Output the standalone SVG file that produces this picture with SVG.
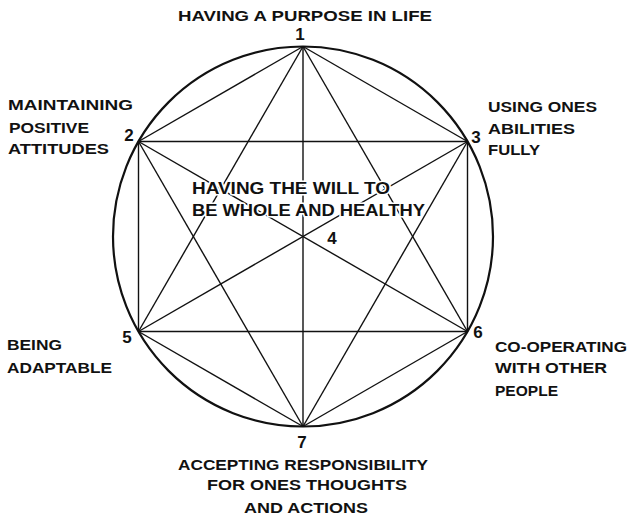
<svg xmlns="http://www.w3.org/2000/svg" width="629" height="519" viewBox="0 0 629 519">
<style>
text{font-family:"Liberation Sans",Arial,sans-serif;font-weight:bold;fill:#111}
.lbl{font-size:14px}
.num{font-size:17px;text-anchor:middle}
.mid{font-size:16px;stroke:#fff;stroke-width:3;paint-order:stroke;stroke-linejoin:round}
.edge{stroke:#111;stroke-width:1.4;fill:none}
</style>
<rect width="629" height="519" fill="#fff"/>
<circle cx="303" cy="236.5" r="190" fill="none" stroke="#111" stroke-width="2.2"/>
<g id="connectors" class="edge">
<line x1="303" y1="46.5" x2="138.5" y2="141.5"/>
<line x1="303" y1="46.5" x2="467.5" y2="141.5"/>
<line x1="303" y1="46.5" x2="138.5" y2="331.5"/>
<line x1="303" y1="46.5" x2="467.5" y2="331.5"/>
<line x1="303" y1="46.5" x2="303" y2="426.5"/>
<line x1="138.5" y1="141.5" x2="467.5" y2="141.5"/>
<line x1="138.5" y1="141.5" x2="138.5" y2="331.5"/>
<line x1="138.5" y1="141.5" x2="467.5" y2="331.5"/>
<line x1="138.5" y1="141.5" x2="303" y2="426.5"/>
<line x1="467.5" y1="141.5" x2="138.5" y2="331.5"/>
<line x1="467.5" y1="141.5" x2="467.5" y2="331.5"/>
<line x1="467.5" y1="141.5" x2="303" y2="426.5"/>
<line x1="138.5" y1="331.5" x2="467.5" y2="331.5"/>
<line x1="138.5" y1="331.5" x2="303" y2="426.5"/>
<line x1="467.5" y1="331.5" x2="303" y2="426.5"/>
</g>
<g id="node1">
<text class="lbl" x="178" y="21" textLength="254" lengthAdjust="spacingAndGlyphs">HAVING A PURPOSE IN LIFE</text>
<text class="num" x="300" y="40">1</text>
</g>
<g id="node2">
<text class="lbl" x="8" y="110" textLength="125" lengthAdjust="spacingAndGlyphs">MAINTAINING</text>
<text class="lbl" x="9" y="133" textLength="80" lengthAdjust="spacingAndGlyphs">POSITIVE</text>
<text class="lbl" x="8" y="154" textLength="101" lengthAdjust="spacingAndGlyphs">ATTITUDES</text>
<text class="num" x="129" y="141">2</text>
</g>
<g id="node3">
<text class="lbl" x="488" y="112" textLength="109" lengthAdjust="spacingAndGlyphs">USING ONES</text>
<text class="lbl" x="488" y="133.5" textLength="87" lengthAdjust="spacingAndGlyphs">ABILITIES</text>
<text class="lbl" x="488" y="155" textLength="52" lengthAdjust="spacingAndGlyphs">FULLY</text>
<text class="num" x="476" y="143">3</text>
</g>
<g id="node4">
<text class="mid" x="192" y="193.5" textLength="198" lengthAdjust="spacingAndGlyphs">HAVING THE WILL TO</text>
<text class="mid" x="192" y="215.5" textLength="233" lengthAdjust="spacingAndGlyphs">BE WHOLE AND HEALTHY</text>
<text class="num" x="332" y="243.5">4</text>
</g>
<g id="node5">
<text class="lbl" x="7" y="350" textLength="55" lengthAdjust="spacingAndGlyphs">BEING</text>
<text class="lbl" x="7" y="372.5" textLength="105" lengthAdjust="spacingAndGlyphs">ADAPTABLE</text>
<text class="num" x="127" y="343">5</text>
</g>
<g id="node6">
<text class="num" x="478" y="338">6</text>
<text class="lbl" x="495" y="351.5" textLength="132" lengthAdjust="spacingAndGlyphs">CO-OPERATING</text>
<text class="lbl" x="495" y="373" textLength="112" lengthAdjust="spacingAndGlyphs">WITH OTHER</text>
<text class="lbl" x="495" y="396" textLength="63" lengthAdjust="spacingAndGlyphs">PEOPLE</text>
</g>
<g id="node7">
<text class="num" x="302" y="448">7</text>
<text class="lbl" x="178" y="470" textLength="250" lengthAdjust="spacingAndGlyphs">ACCEPTING RESPONSIBILITY</text>
<text class="lbl" x="207" y="490" textLength="200" lengthAdjust="spacingAndGlyphs">FOR ONES THOUGHTS</text>
<text class="lbl" x="244" y="513" textLength="124" lengthAdjust="spacingAndGlyphs">AND ACTIONS</text>
</g>
</svg>
